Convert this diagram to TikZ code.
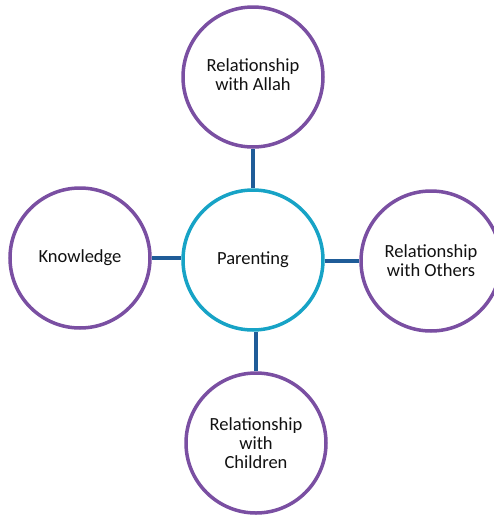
\documentclass[tikz,border=0pt]{standalone}
\usepackage{fontspec}
\setmainfont{Carlito}
\usetikzlibrary{backgrounds}
\definecolor{ringpurple}{HTML}{7A4FA2}
\definecolor{ringteal}{HTML}{17A3C6}
\definecolor{linkblue}{HTML}{1F5C98}
\definecolor{txt}{HTML}{111111}
\begin{document}
\begin{tikzpicture}[x=1pt,y=-1pt,
  ring/.style={circle,draw=ringpurple,line width=3.5pt,fill=white,minimum size=140pt,inner sep=0pt,
    align=center,text=txt,font=\fontsize{18.5}{19}\selectfont},
  hub/.style={ring,draw=ringteal},
  link/.style={draw=linkblue,line width=4pt}]
\useasboundingbox (0,0) rectangle (494,517);
\clip (0,0) rectangle (494,517);
\node[hub] (c) at (253,260) {Parenting};
\node[ring] (t) at (253,77) {\raisebox{-4pt}{\begin{tabular}{@{}c@{}}Relationship\\with Allah\end{tabular}}};
\node[ring] (l) at (80,258) {Knowledge};
\node[ring] (r) at (431,261) {Relationship\\with Others};
\node[ring] (b) at (256,443) {Relationship\\with\\Children};
\begin{scope}[on background layer]
\draw[link] (t.south) -- (t.south |- c.north);
\draw[link] (b.north) -- (b.north |- c.south);
\draw[link] (l.east) -- (l.east -| c.west);
\draw[link] (r.west) -- (r.west -| c.east);
\end{scope}
\end{tikzpicture}
\end{document}
